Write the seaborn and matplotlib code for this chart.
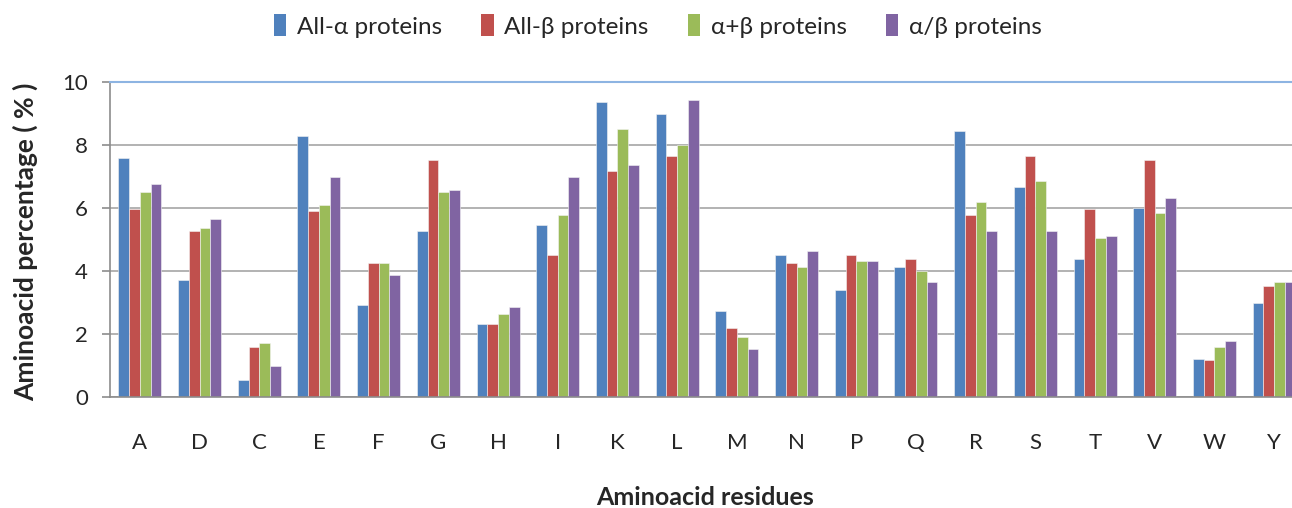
import matplotlib
matplotlib.use("Agg")
import matplotlib.pyplot as plt
from matplotlib.patches import Patch
from matplotlib.ticker import FixedLocator
import seaborn as sns
import pandas as pd
import numpy as np

residues = ["A", "D", "C", "E", "F", "G", "H", "I", "K", "L",
            "M", "N", "P", "Q", "R", "S", "T", "V", "W", "Y"]
series_names = ["All-α proteins", "All-β proteins", "α+β proteins", "α/β proteins"]

all_alpha = [7.60, 3.71, 0.55, 8.27, 2.92, 5.28, 2.31, 5.46, 9.36, 8.99,
             2.74, 4.50, 3.41, 4.13, 8.45, 6.68, 4.38, 6.01, 1.22, 2.98]
all_beta = [5.97, 5.28, 1.58, 5.91, 4.24, 7.53, 2.31, 4.50, 7.17, 7.66,
            2.19, 4.25, 4.50, 4.38, 5.77, 7.66, 5.97, 7.53, 1.16, 3.52]
alpha_plus_beta = [6.50, 5.35, 1.71, 6.08, 4.24, 6.50, 2.62, 5.78, 8.51, 8.01,
                   1.89, 4.13, 4.32, 3.99, 6.20, 6.86, 5.05, 5.85, 1.58, 3.65]
alpha_slash_beta = [6.75, 5.66, 0.98, 6.99, 3.88, 6.57, 2.86, 6.99, 7.35, 9.42,
                    1.52, 4.63, 4.32, 3.64, 5.28, 5.28, 5.10, 6.32, 1.77, 3.65]

colors = ["#4F81BD", "#C0504D", "#9BBB59", "#8064A2"]

df = pd.DataFrame({
    "residue": residues * 4,
    "series": np.repeat(series_names, len(residues)),
    "value": all_alpha + all_beta + alpha_plus_beta + alpha_slash_beta,
})

sns.set_style("white")
plt.rcParams["font.family"] = ["Lato", "DejaVu Sans"]

fig = plt.figure(figsize=(12.92, 5.08), dpi=100)
ax = fig.add_axes([110 / 1292, 111 / 508, 1194 / 1292, 315 / 508])

sns.barplot(data=df, x="residue", y="value", hue="series", order=residues,
            hue_order=series_names, palette=colors, width=0.72,
            saturation=1, edgecolor="#F4F4F4", linewidth=0.4, legend=False, ax=ax)

ax.set_ylim(0, 10)
ax.set_xlim(-0.5, len(residues) - 0.5)
ax.set_yticks([0, 2, 4, 6, 8, 10])
ax.yaxis.grid(True, color="#A6A6A6", linewidth=1.2)
ax.set_axisbelow(True)

# tick marks sit between categories; labels stay centred
ax.xaxis.set_minor_locator(FixedLocator(np.arange(-0.5, len(residues), 1.0)))
ax.tick_params(axis="x", which="major", length=0, pad=26, labelsize=16)
ax.tick_params(axis="x", which="minor", length=6, color="#8C8C8C", width=1.2)
ax.tick_params(axis="y", which="major", length=6, color="#8C8C8C", width=1.2,
               direction="out", left=True, labelsize=16, pad=10)

for side in ["left", "bottom"]:
    ax.spines[side].set_color("#8C8C8C")
    ax.spines[side].set_linewidth(1.2)
ax.spines["right"].set_visible(False)
ax.spines["top"].set_color("#8DB4E2")
ax.spines["top"].set_linewidth(1.5)

ax.set_xlabel("Aminoacid residues", fontsize=18, fontweight="bold", va="baseline")
ax.xaxis.set_label_coords(0.4987, -0.343)
ax.set_ylabel("Aminoacid percentage ( % )", fontsize=19, fontweight="bold",
              va="center", ha="center")
ax.yaxis.set_label_coords(-0.0712, 0.492)

handles = [Patch(facecolor=c, edgecolor="none") for c in colors]
fig.legend(handles, series_names, loc="center", bbox_to_anchor=(658 / 1292, 1 - 26 / 508),
           ncol=4, frameon=False, fontsize=17.5, handlelength=0.5, handleheight=1.0,
           handletextpad=0.45, columnspacing=1.6)

fig.savefig("out.png", dpi=100)
